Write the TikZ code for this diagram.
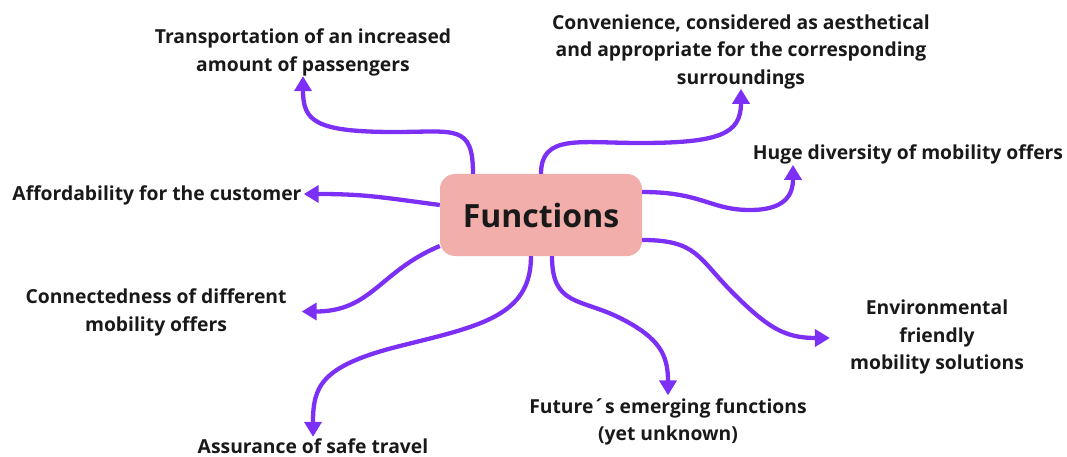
\documentclass[tikz,border=0pt]{standalone}
\usepackage{fontspec}
\setmainfont{Open Sans}
\usetikzlibrary{arrows.meta}
\definecolor{flowpurple}{RGB}{124,48,246}
\definecolor{corepink}{RGB}{242,174,170}

\begin{document}
\begin{tikzpicture}[x=1pt,y=-1pt,
    topic/.style={font={\fontsize{19.3}{27.5}\selectfont\bfseries},text=black!90,align=center,inner sep=2pt},
    core/.style={fill=corepink,rounded corners=15pt,minimum width=202pt,minimum height=82pt,font={\fontsize{32}{38}\selectfont\bfseries},text=black!90},
    flow/.style={draw=flowpurple,line width=4.3pt,-{Triangle[length=15pt,width=17pt]}}]
    \useasboundingbox (0,0) rectangle (1067,457);

    \node[core] (functions) at (541,215) {Functions};

    \node[topic] (transport) at (303,52.5) {Transportation of an increased\\amount of passengers};
    \node[topic] (convenience) at (741,51.5) {Convenience, considered as aesthetical\\and appropriate for the corresponding\\surroundings};
    \node[topic] (diversity) at (908,154) {Huge diversity of mobility offers};
    \node[topic] (affordability) at (157,195) {Affordability for the customer};
    \node[topic] (connectedness) at (156,312.5) {Connectedness of different\\mobility offers};
    \node[topic] (environment) at (937,337) {Environmental\\friendly\\mobility solutions};
    \node[topic] (future) at (668,422) {Future´s emerging functions\\(yet unknown)};
    \node[topic] (safety) at (313,446.5) {Assurance of safe travel};

    \draw[flow] ([xshift=-68pt]functions.north) .. controls +(0,-50) and +(60,0) .. (395,132) .. controls +(-80,0) and +(0,45) .. ([yshift=2pt]transport.south);
    \draw[flow] (functions.north) .. controls +(0,-40) and +(-60,0) .. (640,143) .. controls +(80,0) and +(0,45) .. ([yshift=2pt]convenience.south);
    \draw[flow] ([yshift=23pt]functions.east) .. controls +(60,0) and +(-40,0) .. (750,210) .. controls +(35,0) and +(0,30) .. ([xshift=-115pt,yshift=1pt]diversity.south);
    \draw[flow] ([yshift=10pt]functions.west) .. controls +(-60,-8) and +(60,0) .. ([yshift=1pt]affordability.east);
    \draw[flow] ([yshift=-31pt]functions.west) .. controls +(-60,25) and +(70,0) .. ([xshift=13pt,yshift=1pt]connectedness.east);
    \draw[flow] ([xshift=-10pt]functions.south) .. controls +(0,60) and +(80,-20) .. (400,346) .. controls +(-80,20) and +(0,-50) .. (safety.north);
    \draw[flow] ([xshift=11pt]functions.south) .. controls +(0,50) and +(-40,-20) .. (620,318) .. controls +(40,20) and +(0,-40) .. ([yshift=1pt]future.north);
    \draw[flow] ([yshift=-25pt]functions.east) .. controls +(55,0) and +(-35,-35) .. (733,293) .. controls +(35,35) and +(-45,0) .. ([xshift=-18pt,yshift=-1pt]environment.west);
\end{tikzpicture}
\end{document}
